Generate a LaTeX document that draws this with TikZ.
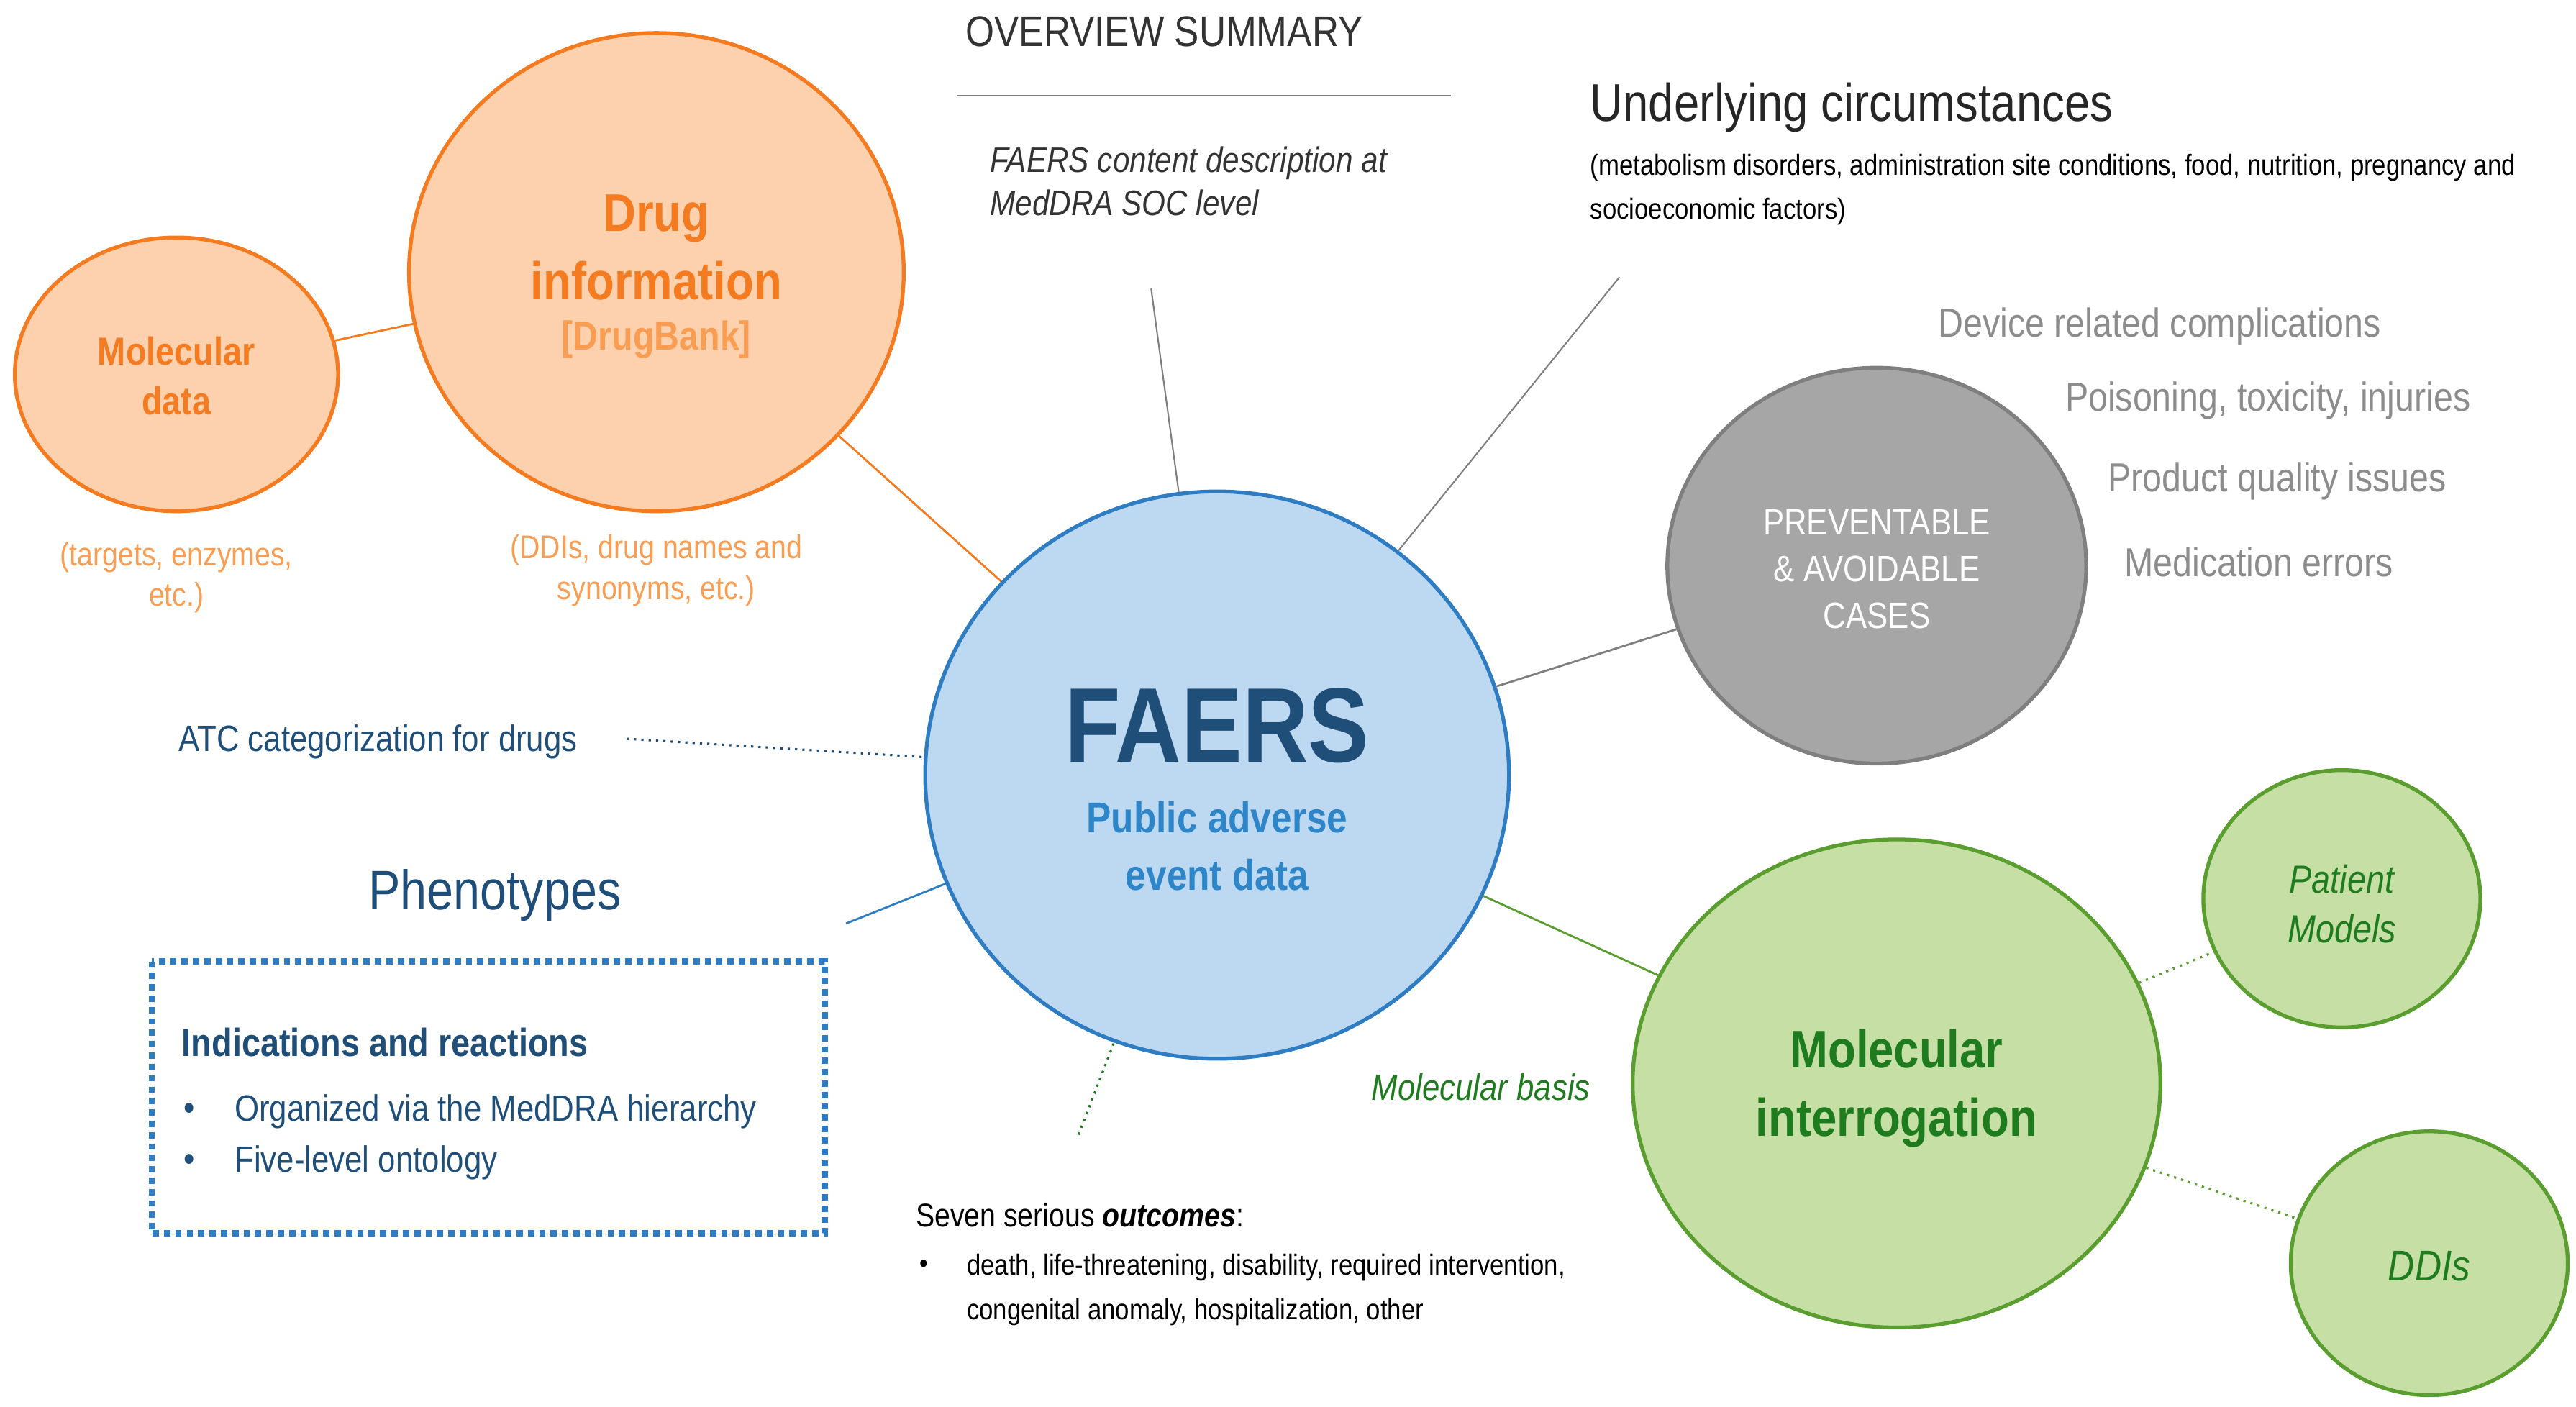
\documentclass[tikz,border=0pt]{standalone}
\usepackage{fontspec}
\usetikzlibrary{shapes.geometric}
\setmainfont{Liberation Sans}[FakeStretch=0.86]
\newdimen\pu \pu=0.02293cm
\definecolor{orS}{HTML}{F47B20}
\definecolor{orF}{HTML}{FDD0AE}
\definecolor{orT}{HTML}{F99D52}
\definecolor{blS}{HTML}{2E7DC2}
\definecolor{blF}{HTML}{BDD8F1}
\definecolor{blD}{HTML}{1F4E79}
\definecolor{blM}{HTML}{2E86C8}
\definecolor{grS}{HTML}{7F7F7F}
\definecolor{grF}{HTML}{A6A6A6}
\definecolor{grT}{HTML}{8C8C8C}
\definecolor{gnS}{HTML}{5A9E2F}
\definecolor{gnF}{HTML}{C5DFA5}
\definecolor{gnD}{HTML}{1E7B1E}
\newcommand\fsz[1]{\fontsize{#1pt}{#1pt}\selectfont}
\begin{document}
\begin{tikzpicture}[x=0.02293cm,y=-0.02293cm,
  circ/.style={ellipse,line width=1.5pt,align=center,inner sep=0pt},
  lab/.style={align=left,anchor=west,inner sep=0pt},
  ctr/.style={align=center,inner sep=0pt}]
\useasboundingbox (0,0) rectangle (1562,853);
% ellipses
\node[circ,draw=orS,fill=orF,minimum width=196\pu,minimum height=166\pu] (mol) at (107,227) {};
\node[circ,draw=orS,fill=orF,minimum width=300\pu,minimum height=290\pu] (drug) at (398,165) {};
\node[circ,draw=blS,fill=blF,minimum width=354\pu,minimum height=344\pu] (faers) at (738,470) {};
\node[circ,draw=grS,fill=grF,minimum width=254\pu,minimum height=240\pu] (prev) at (1138,343) {};
\node[circ,draw=gnS,fill=gnF,minimum width=320\pu,minimum height=296\pu] (molint) at (1150,657) {};
\node[circ,draw=gnS,fill=gnF,minimum width=168\pu,minimum height=156\pu] (pat) at (1420,545) {};
\node[circ,draw=gnS,fill=gnF,minimum width=168\pu,minimum height=160\pu] (ddi) at (1473,766) {};
% ellipse texts
\node[ctr,text=orS,font=\fsz{15.5}\bfseries] at (107,228) {Molecular\\[4pt]data};
\node[ctr,text=orS,font=\fsz{21}\bfseries] (drugt) at (398,150) {Drug\\[6pt]information};
\node[ctr,text=orT,font=\fsz{16}\bfseries] at (398,206) {[DrugBank]};
\node[ctr,text=blD,font=\fsz{42}\bfseries] at (738,440) {FAERS};
\node[ctr,text=blM,font=\fsz{17}\bfseries] at (738,513) {Public adverse\\[6pt]event data};
\node[ctr,text=white,font=\fsz{14.5}] at (1138,345) {PREVENTABLE\\[4pt]\& AVOIDABLE\\[4pt]CASES};
\node[ctr,text=gnD,font=\fsz{21}\bfseries] at (1150,660) {Molecular\\[6pt]interrogation};
\node[ctr,text=gnD,font=\fsz{15.5}\itshape] at (1420,548) {Patient\\[4pt]Models};
\node[ctr,text=gnD,font=\fsz{17}\itshape] at (1473,768) {DDIs};
% connectors between ellipses
\draw[orS,line width=0.8pt] (mol) -- (drug);
\draw[orS,line width=0.8pt] (drug) -- (faers);
\draw[grS,line width=0.8pt] (faers) -- (prev);
\draw[gnS,line width=0.8pt] (faers) -- (molint);
\draw[gnS,line width=0.9pt,dotted] (molint) -- (pat);
\draw[gnS,line width=0.9pt,dotted] (molint) -- (ddi);
% captions
\node[ctr,text=orT,font=\fsz{13}] at (107,350) {(targets, enzymes,\\[3pt]etc.)};
\node[ctr,text=orT,font=\fsz{13}] at (398,346) {(DDIs, drug names and\\[3pt]synonyms, etc.)};
% overview
\node[ctr,text=black!80,font=\fsz{17}] at (706,19) {OVERVIEW SUMMARY};
\coordinate (ovl) at (580,58); \coordinate (ovr) at (880,58);
\draw[grS,line width=0.8pt] (ovl) -- (ovr);
\node[lab,text=black!80,font=\fsz{14}\itshape] at (600,110) {FAERS content description at\\[3pt]MedDRA SOC level};
\coordinate (ov) at (698,175);
\draw[grS,line width=0.6pt] (ov) -- (faers);
% underlying
\node[lab,text=black!85,font=\fsz{21}] at (964,65) {Underlying circumstances};
\node[lab,text=black,font=\fsz{11.5}] at (964,115) {(metabolism disorders, administration site conditions, food, nutrition, pregnancy and\\[6pt]socioeconomic factors)};
\coordinate (un) at (982,168);
\draw[grS,line width=0.6pt] (un) -- (faers);
% gray labels
\node[lab,text=grT,font=\fsz{16}] at (1175,198) {Device related complications};
\node[lab,text=grT,font=\fsz{16}] at (1252,243) {Poisoning, toxicity, injuries};
\node[lab,text=grT,font=\fsz{16}] at (1278,292) {Product quality issues};
\node[lab,text=grT,font=\fsz{16}] at (1288,341) {Medication errors};
% ATC
\node[lab,text=blD,font=\fsz{14.5}] (atc) at (108,450) {ATC categorization for drugs};
\coordinate (atce) at (380,448);
\draw[blD,line width=0.9pt,dotted] (atce) -- (faers);
% phenotypes
\node[ctr,text=blD,font=\fsz{22}] at (300,543) {Phenotypes};
\coordinate (ph) at (513,560);
\draw[blS,line width=0.8pt] (ph) -- (faers);
\draw[blS,line width=2.5pt,dotted] (92,583) rectangle (500,748);
\node[lab,text=blD,font=\fsz{15.5}\bfseries] at (110,632) {Indications and reactions};
\node[ctr,text=blD,font=\fsz{14.5}] at (115,674) {•};
\node[ctr,text=blD,font=\fsz{14.5}] at (115,705) {•};
\node[lab,text=blD,font=\fsz{14.5}] at (142,674) {Organized via the MedDRA hierarchy};
\node[lab,text=blD,font=\fsz{14.5}] at (142,705) {Five-level ontology};
% molecular basis
\node[ctr,text=gnD,font=\fsz{14.5}\itshape] at (898,659) {Molecular basis};
% outcomes
\coordinate (oc) at (654,688);
\draw[gnD,line width=0.9pt,dotted] (oc) -- (faers);
\node[lab,text=black,font=\fsz{13}] at (555,737) {Seven serious \textbf{\textit{outcomes}}:};
\node[ctr,text=black,font=\fsz{11}] at (560,768) {•};
\node[lab,text=black,font=\fsz{11.5}] at (586,782) {death, life-threatening, disability, required intervention,\\[6pt]congenital anomaly, hospitalization, other};
\end{tikzpicture}
\end{document}
